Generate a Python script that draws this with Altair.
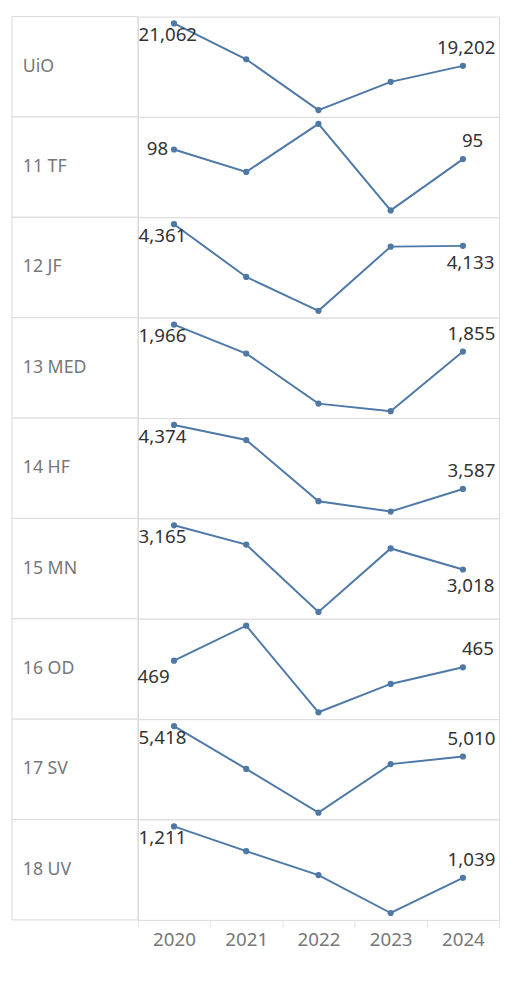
import altair as alt
import pandas as pd

years = [2020, 2021, 2022, 2023, 2024]
faculties = ["UiO", "11 TF", "12 JF", "13 MED", "14 HF", "15 MN", "16 OD", "17 SV", "18 UV"]

uio = [21062, 19491, 17262, 18500, 19202]
tf = [98, 91, 106, 79, 95]
jf = [4361, 3806, 3450, 4125, 4133]
med = [1966, 1847, 1641, 1610, 1855]
hf = [4374, 4189, 3437, 3310, 3587]
mn = [3165, 3101, 2877, 3088, 3018]
od = [469, 490, 438, 455, 465]
sv = [5418, 4844, 4258, 4908, 5010]
uv = [1211, 1128, 1048, 921, 1039]
series = [uio, tf, jf, med, hf, mn, od, sv, uv]

# label placement (style only)
first_place = {"11 TF": "first-left", "16 OD": "first-below-far"}
last_place = {"11 TF": "last-above-left", "16 OD": "last-above-left",
              "12 JF": "last-below-right", "15 MN": "last-below-right"}

rows = []
for fac, vals in zip(faculties, series):
    for i, (yr, v) in enumerate(zip(years, vals)):
        lab = ""
        if i == 0:
            lab = first_place.get(fac, "first-below")
        elif i == len(years) - 1:
            lab = last_place.get(fac, "last-above-right")
        rows.append({"faculty": fac, "year": str(yr), "value": v, "lab": lab,
                     "first": i == 0})
df = pd.DataFrame(rows)

FONT = "Noto Sans"
BLUE = "#4e79a7"
GRID = "#d9d9d9"
ROW_H = 102
HDR_W = 128
PLOT_W = 367

x_enc = alt.X("year:O", title=None,
              scale=alt.Scale(paddingInner=0, paddingOuter=0),
              axis=alt.Axis(labelAngle=0, domain=False, grid=False, tickBand="extent",
                            tickColor="#e3e3e3", tickSize=8, labelPadding=3,
                            labelFontSize=19, labelColor="#777777", labelFont=FONT))
y_enc = alt.Y("value:Q", title=None, axis=None,
              scale=alt.Scale(zero=False, nice=False, padding=7))

base = alt.Chart().encode(x=x_enc, y=y_enc)
line = base.mark_line(color=BLUE, strokeWidth=2)
pts = base.mark_circle(color=BLUE, size=40, opacity=1)


def label(key, align, dx, dy):
    return base.mark_text(align=align, baseline="middle", dx=dx, dy=dy,
                          fontSize=19, font=FONT, color="#333333").encode(
        text=alt.Text("value:Q", format=",d")
    ).transform_filter(alt.datum.lab == key)


texts = [
    label("first-below", "left", -36, 12),
    label("first-below-far", "left", -37, 17),
    label("first-left", "right", -6, 0),
    label("last-above-right", "right", 33, -18),
    label("last-above-left", "left", -1, -18),
    label("last-below-right", "right", 32, 17),
]

# row-header cell (box + faculty name) to the left of each pane
hdr_box = alt.Chart().mark_rect(fill="white", stroke=GRID, strokeWidth=1).encode(
    x=alt.value(-HDR_W), x2=alt.value(0), y=alt.value(0), y2=alt.value(ROW_H)
).transform_filter(alt.datum.first)
hdr_txt = alt.Chart().mark_text(
    align="left", baseline="middle", fontSize=18, font=FONT, color="#777777"
).encode(
    text="faculty:N", x=alt.value(-HDR_W + 11)
).transform_filter(alt.datum.first)

chart = alt.layer(hdr_box, hdr_txt, line, pts, *texts, data=df).properties(
    width=PLOT_W, height=ROW_H
).facet(
    row=alt.Row("faculty:N", sort=faculties, header=None),
    spacing=0, bounds="flush"
).resolve_scale(y="independent").properties(
    padding={"left": 3, "top": 0, "right": 0, "bottom": 0},
    background="white"
).configure_view(
    stroke=GRID, strokeWidth=1, fill="white"
)

chart.save("out.html", embed_options={"renderer": "svg", "actions": False})
